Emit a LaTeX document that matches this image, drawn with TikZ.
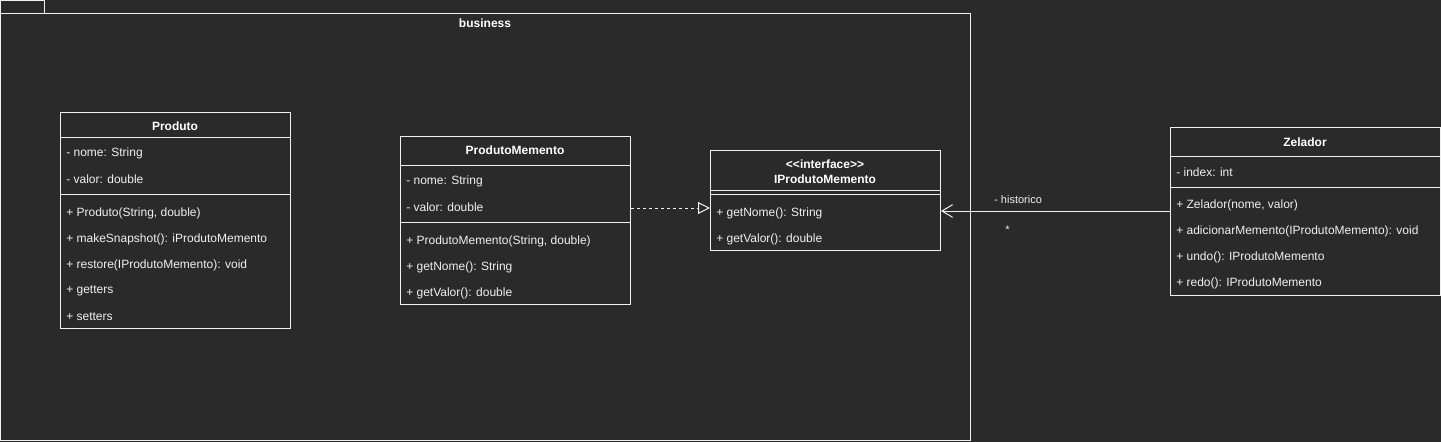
\documentclass[tikz,border=0pt]{standalone}
\usepackage{fontspec}
\setmainfont{Liberation Sans}
\usepackage{xcolor}
\usetikzlibrary{arrows.meta}

\definecolor{bgdark}{RGB}{42,42,42}
\definecolor{umlline}{RGB}{240,240,240}
\definecolor{umltext}{RGB}{240,240,240}

\begin{document}
\begin{tikzpicture}[x=0.75pt,y=0.75pt,yscale=-1,xscale=1,
  umlbox/.style={draw=umlline, line width=0.75pt, inner sep=0pt, anchor=north west},
  rowtext/.style={anchor=west, inner sep=0pt, yshift=-0.75pt, text=umltext, font=\fontsize{9}{11}\selectfont},
  titletext/.style={anchor=center, inner sep=0.75pt, yshift=-0.75pt, text=white, align=center, font=\fontsize{9}{11}\selectfont\bfseries},
  edgetext/.style={anchor=west, inner sep=0pt, yshift=-0.75pt, text=umltext, font=\fontsize{8.25}{10}\selectfont}]
%set diagram to 1441 x 442
\fill [bgdark] (0,0) rectangle (1441,442) ;
\useasboundingbox (0,0) rectangle (1441,442) ;

%Shape: Package [id:business]
\draw [umlline, line width=0.75pt] (0.5,0.5) -- (44,0.5) -- (44,14) ;
\draw [umlline, line width=0.75pt] (0.5,0.5) -- (0.5,440) -- (970,440) -- (970,14) -- (0.5,14) ;
% Text Node
\draw (485,22) node (business) [titletext] {business};

%Shape: Class [id:produto]
\node (produto) [umlbox, minimum width=172.5pt, minimum height=162pt] at (60,112) {};
\draw [umlline, line width=0.75pt] (produto.west |- 0,138) -- (produto.east |- 0,138) ;
\draw [umlline, line width=0.75pt] (produto.west |- 0,194) -- (produto.east |- 0,194) ;
% Text Node
\draw (175,125) node (produtoT) [titletext] {Produto};
\draw (66,152) node (produtoA1) [rowtext] {- nome: String};
\draw (66,178) node (produtoA2) [rowtext] {- valor: double};
\draw (66,212) node (produtoM1) [rowtext] {+ Produto(String, double)};
\draw (66,238) node (produtoM2) [rowtext] {+ makeSnapshot(): iProdutoMemento};
\draw (66,264) node (produtoM3) [rowtext] {+ restore(IProdutoMemento): void};
\draw (66,290) node (produtoM4) [rowtext] {+ getters};
\draw (66,316) node (produtoM5) [rowtext] {+ setters};

%Shape: Class [id:produtomemento]
\node (memento) [umlbox, minimum width=172.5pt, minimum height=126pt] at (400,136) {};
\draw [umlline, line width=0.75pt] (memento.west |- 0,166) -- (memento.east |- 0,166) ;
\draw [umlline, line width=0.75pt] (memento.west |- 0,222) -- (memento.east |- 0,222) ;
% Text Node
\draw (515,149) node (mementoT) [titletext] {ProdutoMemento};
\draw (406,180) node (mementoA1) [rowtext] {- nome: String};
\draw (406,206) node (mementoA2) [rowtext] {- valor: double};
\draw (406,240) node (mementoM1) [rowtext] {+ ProdutoMemento(String, double)};
\draw (406,266) node (mementoM2) [rowtext] {+ getNome(): String};
\draw (406,292) node (mementoM3) [rowtext] {+ getValor(): double};

%Shape: Interface [id:iprodutomemento]
\node (imemento) [umlbox, minimum width=172.5pt, minimum height=75pt] at (710,150) {};
\draw [umlline, line width=0.75pt] (imemento.west |- 0,190) -- (imemento.east |- 0,190) ;
\draw [umlline, line width=0.75pt] (imemento.west |- 0,194) -- (imemento.east |- 0,194) ;
% Text Node
\draw (825,171) node (imementoT) [titletext] {<{}<interface>{}>\\IProdutoMemento};
\draw (716,212) node (imementoM1) [rowtext] {+ getNome(): String};
\draw (716,238) node (imementoM2) [rowtext] {+ getValor(): double};

%Shape: Class [id:zelador]
\node (zelador) [umlbox, minimum width=202.5pt, minimum height=126pt] at (1170,127) {};
\draw [umlline, line width=0.75pt] (zelador.west |- 0,157) -- (zelador.east |- 0,157) ;
\draw [umlline, line width=0.75pt] (zelador.west |- 0,187) -- (zelador.east |- 0,187) ;
% Text Node
\draw (1305,141) node (zeladorT) [titletext] {Zelador};
\draw (1176,171) node (zeladorA1) [rowtext] {- index: int};
\draw (1176,204) node (zeladorM1) [rowtext] {+ Zelador(nome, valor)};
\draw (1176,230) node (zeladorM2) [rowtext] {+ adicionarMemento(IProdutoMemento): void};
\draw (1176,256) node (zeladorM3) [rowtext] {+ undo(): IProdutoMemento};
\draw (1176,282) node (zeladorM4) [rowtext] {+ redo(): IProdutoMemento};

%Realization [id:memento-imemento]
\draw [umlline, line width=0.75pt, dash pattern=on 2.25pt off 2.25pt, -{Triangle[open, length=9pt, width=9pt, line width=0.75pt]}] (memento.east |- 0,208) -- (imemento.west |- 0,208) ;
%Association [id:zelador-imemento]
\draw [umlline, line width=0.75pt, -{Straight Barb[length=8pt, width=9.5pt, line width=0.75pt]}] (zelador.west |- 0,211) -- (imemento.east |- 0,211) ;
% Text Node
\draw (994,199) node (historico) [edgetext] {- historico};
\draw (1005,229) node (mult) [edgetext] {*};

\end{tikzpicture}
\end{document}
